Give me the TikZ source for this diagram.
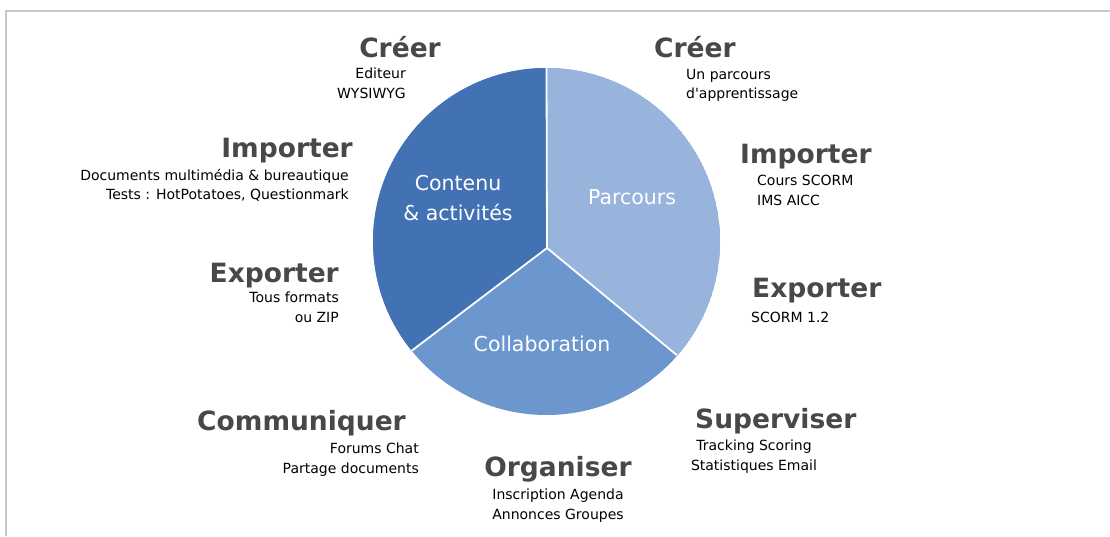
\documentclass[tikz,border=0pt]{standalone}
\usepackage{fontspec}
\setmainfont{DejaVu Sans}[Ligatures=TeXOff]
\definecolor{contenublue}{RGB}{66,113,180}
\definecolor{collabblue}{RGB}{108,150,206}
\definecolor{parcoursblue}{RGB}{152,180,221}
\definecolor{headgray}{RGB}{72,72,72}
\definecolor{framegray}{RGB}{200,200,200}
\begin{document}
\begin{tikzpicture}[x=1pt,y=-1pt,
  head/.style={font=\bfseries\fontsize{26.5}{28}\selectfont, text=headgray, inner sep=0pt},
  detail/.style={font=\fontsize{14}{19.5}\selectfont, text=black, inner sep=0pt},
  slice/.style={font=\fontsize{20.5}{30}\selectfont, text=white, align=center, inner sep=0pt},
  spoke/.style={white, line width=1.8pt}]
\useasboundingbox[fill=white] (0,0) rectangle (1110,536);
\draw[framegray, line width=1.5pt] (6,536) -- (6,11) -- (1110,11);

\coordinate (mid) at (546.5,241.5);
\coordinate (hub) at (547,248);
\coordinate (top) at (546.5,68);
\coordinate (lowleft) at (411.7,350.7);
\coordinate (lowright) at (676.7,355);
\begin{scope}
\clip (mid) circle (173.5pt);
\fill[collabblue] (mid) circle (173.5pt);
\fill[contenublue] (hub) -- (547,60) -- (360,60) -- (360,390) -- cycle;
\fill[parcoursblue] (hub) -- (547,60) -- (730,60) -- (730,399) -- cycle;
\end{scope}
\draw[spoke] (hub) -- (top);
\draw[spoke] (hub) -- (lowleft);
\draw[spoke] (hub) -- (lowright);

\node[slice] (contenu) at (458,198) {Contenu\\\& activités};
\node[slice] (parcours) at (632,197) {Parcours};
\node[slice] (collab) at (542,344) {Collaboration};

\node[head, anchor=base east] (creerleft) at (441,57) {Créer};
\node[detail, anchor=north east, align=right] (creerlefttext) at (406,68) {Editeur\\WYSIWYG};
\node[head, anchor=base east] (importleft) at (353,157) {Importer};
\node[detail, anchor=north east, align=right] (importlefttext) at (349,169) {Documents multimédia \& bureautique\\Tests : HotPotatoes, Questionmark};
\node[head, anchor=base east] (exportleft) at (339,282) {Exporter};
\node[detail, anchor=north east, align=right] (exportlefttext) at (339,292) {Tous formats\\ou ZIP};
\node[head, anchor=base east] (commun) at (406,430) {Communiquer};
\node[detail, anchor=north east, align=right] (communtext) at (419,443) {Forums Chat\\Partage documents};
\node[head, anchor=base] (organ) at (558,476) {Organiser};
\node[detail, anchor=north, align=center] (organtext) at (558,489) {Inscription Agenda\\Annonces Groupes};
\node[head, anchor=base west] (creerright) at (654,57) {Créer};
\node[detail, anchor=north west, align=left] (creerrighttext) at (686,69) {Un parcours\\d'apprentissage};
\node[head, anchor=base west] (importright) at (740,163) {Importer};
\node[detail, anchor=north west, align=left] (importrighttext) at (757,175) {Cours SCORM\\IMS AICC};
\node[head, anchor=base west] (exportright) at (752,297) {Exporter};
\node[detail, anchor=north west, align=left] (exportrighttext) at (751,312) {SCORM 1.2};
\node[head, anchor=base west] (superv) at (695,428) {Superviser};
\node[detail, anchor=north, align=center] (supervtext) at (754,440) {Tracking Scoring\\Statistiques Email};
\end{tikzpicture}
\end{document}
